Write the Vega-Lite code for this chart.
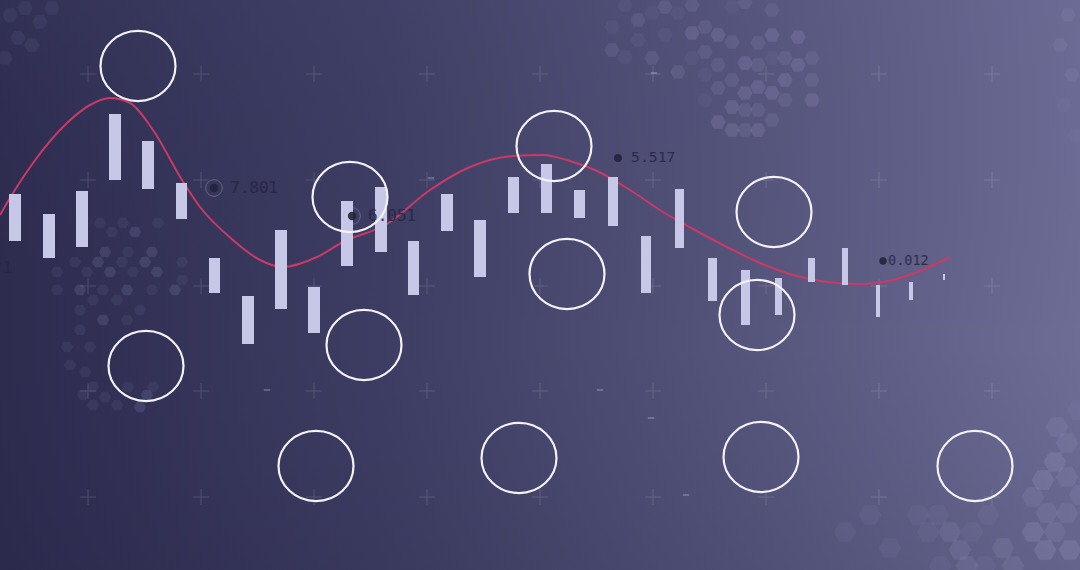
{
  "$schema": "https://vega.github.io/schema/vega-lite/v6.json",
  "width": 1080,
  "height": 570,
  "padding": 0,
  "autosize": {"type": "none"},
  "background": "#3f3e63",
  "config": {"view": {"stroke": null}},
  "resolve": {"scale": {"size": "independent", "opacity": "independent"}},
  "datasets": {
    "bg": [{"x": 0, "x2": 1080, "y": 0, "y2": 570}],
    "hex": [
      {"x": 612, "y": 50, "c": "a", "t": 2}, {"x": 625, "y": 57, "c": "a", "t": 1}, {"x": 638, "y": 20, "c": "a", "t": 2},
      {"x": 652, "y": 13, "c": "a", "t": 1}, {"x": 665, "y": 7, "c": "a", "t": 2}, {"x": 678, "y": 13, "c": "a", "t": 1},
      {"x": 692, "y": 33, "c": "a", "t": 3}, {"x": 705, "y": 27, "c": "a", "t": 2}, {"x": 718, "y": 35, "c": "a", "t": 3},
      {"x": 732, "y": 42, "c": "a", "t": 2}, {"x": 745, "y": 63, "c": "a", "t": 3}, {"x": 758, "y": 87, "c": "a", "t": 3},
      {"x": 772, "y": 35, "c": "a", "t": 3}, {"x": 785, "y": 58, "c": "a", "t": 2}, {"x": 798, "y": 65, "c": "a", "t": 3},
      {"x": 812, "y": 58, "c": "a", "t": 2}, {"x": 812, "y": 100, "c": "a", "t": 3}, {"x": 785, "y": 100, "c": "a", "t": 2},
      {"x": 772, "y": 93, "c": "a", "t": 3}, {"x": 745, "y": 93, "c": "a", "t": 3}, {"x": 732, "y": 80, "c": "a", "t": 2},
      {"x": 718, "y": 65, "c": "a", "t": 2}, {"x": 718, "y": 122, "c": "a", "t": 3}, {"x": 732, "y": 130, "c": "a", "t": 3},
      {"x": 758, "y": 130, "c": "a", "t": 3}, {"x": 745, "y": 110, "c": "a", "t": 2}, {"x": 732, "y": 107, "c": "a", "t": 3},
      {"x": 678, "y": 72, "c": "a", "t": 2}, {"x": 652, "y": 58, "c": "a", "t": 2}, {"x": 692, "y": 58, "c": "a", "t": 1},
      {"x": 705, "y": 52, "c": "a", "t": 2}, {"x": 758, "y": 43, "c": "a", "t": 2}, {"x": 798, "y": 37, "c": "a", "t": 3},
      {"x": 772, "y": 10, "c": "a", "t": 2}, {"x": 745, "y": 2, "c": "a", "t": 2}, {"x": 732, "y": 7, "c": "a", "t": 1},
      {"x": 625, "y": 5, "c": "a", "t": 1}, {"x": 612, "y": 27, "c": "a", "t": 1}, {"x": 692, "y": 5, "c": "a", "t": 2},
      {"x": 705, "y": 75, "c": "a", "t": 1}, {"x": 758, "y": 110, "c": "a", "t": 2}, {"x": 785, "y": 80, "c": "a", "t": 3},
      {"x": 772, "y": 120, "c": "a", "t": 2}, {"x": 745, "y": 130, "c": "a", "t": 2}, {"x": 812, "y": 80, "c": "a", "t": 2},
      {"x": 638, "y": 40, "c": "a", "t": 1}, {"x": 665, "y": 35, "c": "a", "t": 1}, {"x": 758, "y": 65, "c": "a", "t": 2},
      {"x": 772, "y": 58, "c": "a", "t": 1}, {"x": 705, "y": 100, "c": "a", "t": 1}, {"x": 718, "y": 88, "c": "a", "t": 2},
      {"x": 100, "y": 223, "c": "b", "t": 1}, {"x": 123, "y": 223, "c": "b", "t": 1}, {"x": 135, "y": 232, "c": "b", "t": 2},
      {"x": 158, "y": 223, "c": "b", "t": 1}, {"x": 112, "y": 232, "c": "b", "t": 1}, {"x": 105, "y": 252, "c": "b", "t": 2},
      {"x": 128, "y": 252, "c": "b", "t": 1}, {"x": 152, "y": 252, "c": "b", "t": 2}, {"x": 75, "y": 262, "c": "b", "t": 1},
      {"x": 98, "y": 262, "c": "b", "t": 2}, {"x": 122, "y": 262, "c": "b", "t": 1}, {"x": 145, "y": 262, "c": "b", "t": 2},
      {"x": 182, "y": 262, "c": "b", "t": 1}, {"x": 57, "y": 272, "c": "b", "t": 1}, {"x": 87, "y": 272, "c": "b", "t": 1},
      {"x": 110, "y": 272, "c": "b", "t": 2}, {"x": 133, "y": 272, "c": "b", "t": 1}, {"x": 157, "y": 272, "c": "b", "t": 2},
      {"x": 182, "y": 280, "c": "b", "t": 1}, {"x": 57, "y": 290, "c": "b", "t": 1}, {"x": 80, "y": 290, "c": "b", "t": 2},
      {"x": 103, "y": 290, "c": "b", "t": 1}, {"x": 127, "y": 290, "c": "b", "t": 2}, {"x": 152, "y": 290, "c": "b", "t": 1},
      {"x": 175, "y": 290, "c": "b", "t": 2}, {"x": 93, "y": 300, "c": "b", "t": 1}, {"x": 117, "y": 300, "c": "b", "t": 1},
      {"x": 140, "y": 310, "c": "b", "t": 1}, {"x": 80, "y": 310, "c": "b", "t": 1}, {"x": 103, "y": 320, "c": "b", "t": 2},
      {"x": 127, "y": 320, "c": "b", "t": 1}, {"x": 80, "y": 330, "c": "b", "t": 1}, {"x": 67, "y": 347, "c": "b", "t": 1},
      {"x": 90, "y": 347, "c": "b", "t": 1}, {"x": 93, "y": 387, "c": "b", "t": 1}, {"x": 105, "y": 397, "c": "b", "t": 1},
      {"x": 93, "y": 405, "c": "b", "t": 1}, {"x": 117, "y": 405, "c": "b", "t": 1}, {"x": 140, "y": 407, "c": "b", "t": 2},
      {"x": 147, "y": 395, "c": "b", "t": 2}, {"x": 153, "y": 387, "c": "b", "t": 1}, {"x": 128, "y": 387, "c": "b", "t": 1},
      {"x": 83, "y": 395, "c": "b", "t": 1}, {"x": 70, "y": 365, "c": "b", "t": 1}, {"x": 85, "y": 372, "c": "b", "t": 1},
      {"x": 1057, "y": 427, "c": "c", "t": 2}, {"x": 1067, "y": 443, "c": "c", "t": 2}, {"x": 1055, "y": 462, "c": "c", "t": 3},
      {"x": 1043, "y": 480, "c": "c", "t": 3}, {"x": 1033, "y": 497, "c": "c", "t": 2}, {"x": 1047, "y": 513, "c": "c", "t": 2},
      {"x": 1033, "y": 532, "c": "c", "t": 3}, {"x": 1055, "y": 532, "c": "c", "t": 2}, {"x": 1045, "y": 550, "c": "c", "t": 3},
      {"x": 1003, "y": 548, "c": "c", "t": 2}, {"x": 1013, "y": 566, "c": "c", "t": 2}, {"x": 960, "y": 550, "c": "c", "t": 2},
      {"x": 938, "y": 515, "c": "c", "t": 1}, {"x": 928, "y": 532, "c": "c", "t": 1}, {"x": 950, "y": 532, "c": "c", "t": 2},
      {"x": 972, "y": 532, "c": "c", "t": 1}, {"x": 918, "y": 515, "c": "c", "t": 1}, {"x": 890, "y": 548, "c": "c", "t": 1},
      {"x": 845, "y": 532, "c": "c", "t": 1}, {"x": 940, "y": 566, "c": "c", "t": 1}, {"x": 967, "y": 566, "c": "c", "t": 2},
      {"x": 1067, "y": 477, "c": "c", "t": 2}, {"x": 1067, "y": 513, "c": "c", "t": 2}, {"x": 1070, "y": 550, "c": "c", "t": 3},
      {"x": 988, "y": 515, "c": "c", "t": 1}, {"x": 1078, "y": 410, "c": "c", "t": 1}, {"x": 1080, "y": 495, "c": "c", "t": 2},
      {"x": 870, "y": 515, "c": "c", "t": 1}, {"x": 985, "y": 566, "c": "c", "t": 1},
      {"x": 10, "y": 15, "c": "d", "t": 1}, {"x": 25, "y": 8, "c": "d", "t": 1}, {"x": 40, "y": 22, "c": "d", "t": 1},
      {"x": 18, "y": 38, "c": "d", "t": 1}, {"x": 32, "y": 45, "c": "d", "t": 1}, {"x": 52, "y": 8, "c": "d", "t": 1},
      {"x": 5, "y": 58, "c": "d", "t": 1},
      {"x": 1068, "y": 15, "c": "d", "t": 2}, {"x": 1060, "y": 45, "c": "d", "t": 2}, {"x": 1072, "y": 75, "c": "d", "t": 2},
      {"x": 1064, "y": 105, "c": "d", "t": 1}, {"x": 1075, "y": 135, "c": "d", "t": 1}
    ],
    "plus": [
      {"x": 88, "y": 74}, {"x": 201, "y": 74}, {"x": 314, "y": 74}, {"x": 427, "y": 74}, {"x": 540, "y": 74}, {"x": 653, "y": 74}, {"x": 766, "y": 74}, {"x": 879, "y": 74}, {"x": 992, "y": 74},
      {"x": 88, "y": 180}, {"x": 201, "y": 180}, {"x": 314, "y": 180}, {"x": 427, "y": 180}, {"x": 540, "y": 180}, {"x": 653, "y": 180}, {"x": 766, "y": 180}, {"x": 879, "y": 180}, {"x": 992, "y": 180},
      {"x": 88, "y": 286}, {"x": 201, "y": 286}, {"x": 314, "y": 286}, {"x": 427, "y": 286}, {"x": 540, "y": 286}, {"x": 653, "y": 286}, {"x": 766, "y": 286}, {"x": 879, "y": 286}, {"x": 992, "y": 286},
      {"x": 88, "y": 391}, {"x": 201, "y": 391}, {"x": 314, "y": 391}, {"x": 427, "y": 391}, {"x": 540, "y": 391}, {"x": 653, "y": 391}, {"x": 766, "y": 391}, {"x": 879, "y": 391}, {"x": 992, "y": 391},
      {"x": 88, "y": 497}, {"x": 201, "y": 497}, {"x": 314, "y": 497}, {"x": 427, "y": 497}, {"x": 540, "y": 497}, {"x": 653, "y": 497}, {"x": 766, "y": 497}, {"x": 879, "y": 497}, {"x": 992, "y": 497}
    ],
    "dash": [{"x": 654, "y": 73}, {"x": 431, "y": 178}, {"x": 267, "y": 390}, {"x": 600, "y": 390}, {"x": 651, "y": 418}, {"x": 686, "y": 495}],
    "curve": [
      {"x": 0, "y": 215}, {"x": 13, "y": 193}, {"x": 33, "y": 163}, {"x": 67, "y": 123}, {"x": 90, "y": 105},
      {"x": 110, "y": 98}, {"x": 130, "y": 103}, {"x": 153, "y": 130}, {"x": 182, "y": 180}, {"x": 200, "y": 207},
      {"x": 233, "y": 240}, {"x": 260, "y": 260}, {"x": 283, "y": 267}, {"x": 317, "y": 257}, {"x": 343, "y": 242},
      {"x": 387, "y": 224}, {"x": 430, "y": 190}, {"x": 470, "y": 167}, {"x": 513, "y": 156}, {"x": 543, "y": 155},
      {"x": 570, "y": 161}, {"x": 597, "y": 171}, {"x": 630, "y": 190}, {"x": 663, "y": 212}, {"x": 693, "y": 229},
      {"x": 727, "y": 247}, {"x": 760, "y": 263}, {"x": 793, "y": 275}, {"x": 827, "y": 282}, {"x": 860, "y": 284},
      {"x": 893, "y": 280}, {"x": 927, "y": 268}, {"x": 950, "y": 257}
    ],
    "bars": [
      {"x": 9, "x2": 21, "y": 194, "y2": 241}, {"x": 43, "x2": 55, "y": 214, "y2": 258}, {"x": 76, "x2": 88, "y": 191, "y2": 247},
      {"x": 109, "x2": 121, "y": 114, "y2": 180}, {"x": 142, "x2": 154, "y": 141, "y2": 189}, {"x": 176, "x2": 187, "y": 183, "y2": 219},
      {"x": 209, "x2": 220, "y": 258, "y2": 293}, {"x": 242, "x2": 254, "y": 296, "y2": 344}, {"x": 275, "x2": 287, "y": 230, "y2": 309},
      {"x": 308, "x2": 320, "y": 287, "y2": 333}, {"x": 341, "x2": 353, "y": 201, "y2": 266}, {"x": 375, "x2": 387, "y": 187, "y2": 252},
      {"x": 408, "x2": 419, "y": 241, "y2": 295}, {"x": 441, "x2": 453, "y": 194, "y2": 231}, {"x": 474, "x2": 486, "y": 220, "y2": 277},
      {"x": 508, "x2": 519, "y": 177, "y2": 213}, {"x": 541, "x2": 552, "y": 164, "y2": 213}, {"x": 574, "x2": 585, "y": 190, "y2": 218},
      {"x": 608, "x2": 618, "y": 177, "y2": 226}, {"x": 641, "x2": 651, "y": 236, "y2": 293}, {"x": 675, "x2": 684, "y": 189, "y2": 248},
      {"x": 708, "x2": 717, "y": 258, "y2": 301}, {"x": 741, "x2": 750, "y": 270, "y2": 325}, {"x": 775, "x2": 782, "y": 278, "y2": 315},
      {"x": 808, "x2": 815, "y": 258, "y2": 282}, {"x": 842, "x2": 848, "y": 248, "y2": 285}, {"x": 876, "x2": 880, "y": 285, "y2": 317},
      {"x": 909, "x2": 913, "y": 282, "y2": 300}, {"x": 943, "x2": 945, "y": 274, "y2": 280}
    ],
    "rings": [
      {"x": 138, "y": 66}, {"x": 350, "y": 197}, {"x": 554, "y": 146}, {"x": 774, "y": 212},
      {"x": 146, "y": 366}, {"x": 364, "y": 345}, {"x": 567, "y": 274}, {"x": 757, "y": 315},
      {"x": 316, "y": 466}, {"x": 519, "y": 458}, {"x": 761, "y": 457}, {"x": 975, "y": 466}
    ],
    "labels": [
      {"px": 214, "lx": 230, "y": 188, "label": "7.801", "grp": "big"},
      {"px": 352, "lx": 368, "y": 216, "label": "6.051", "grp": "big"},
      {"px": 618, "lx": 631, "y": 158, "label": "5.517", "grp": "mid"},
      {"px": 883, "lx": 888, "y": 261, "label": "0.012", "grp": "tiny"},
      {"px": -52, "lx": -36, "y": 268, "label": "0.871", "grp": "big"}
    ]
  },
  "layer": [
    {
      "data": {"name": "bg"},
      "mark": {"type": "rect", "fill": {"gradient": "linear", "x1": 0, "y1": 0, "x2": 1, "y2": 0, "stops": [
        {"offset": 0, "color": "#2d2c4f"}, {"offset": 0.35, "color": "#3d3c62"}, {"offset": 0.7, "color": "#56557c"}, {"offset": 1, "color": "#6e6d96"}]}},
      "encoding": {
        "x": {"field": "x", "type": "quantitative", "scale": {"domain": [0, 1080], "nice": false, "zero": false},
          "axis": {"values": [3, 31, 60, 88, 116, 144, 173, 201, 229, 257, 286, 314, 342, 370, 399, 427, 455, 483, 512, 540, 568, 596, 625, 653, 681, 709, 738, 766, 794, 822, 851, 879, 907, 935, 964, 992, 1020, 1048, 1077],
            "grid": true, "gridColor": "#ffffff", "gridOpacity": 0.035, "domain": false, "ticks": false, "labels": false, "title": null, "zindex": 1, "minExtent": 0, "maxExtent": 0}},
        "x2": {"field": "x2"},
        "y": {"field": "y", "type": "quantitative", "scale": {"domain": [0, 570], "nice": false, "zero": false, "reverse": true},
          "axis": {"values": [21, 47.5, 74, 100.5, 127, 153.5, 180, 206.5, 233, 259.5, 286, 312.5, 339, 365.5, 391, 418.5, 445, 471.5, 497, 524.5, 551],
            "grid": true, "gridColor": "#ffffff", "gridOpacity": 0.035, "domain": false, "ticks": false, "labels": false, "title": null, "zindex": 1, "minExtent": 0, "maxExtent": 0}},
        "y2": {"field": "y2"}
      }
    },
    {
      "data": {"name": "bg"},
      "mark": {"type": "rect", "fill": {"gradient": "linear", "x1": 0, "y1": 0, "x2": 0, "y2": 1, "stops": [
        {"offset": 0, "color": "rgba(90,90,140,0.10)"}, {"offset": 0.6, "color": "rgba(40,40,80,0)"}, {"offset": 1, "color": "rgba(20,20,50,0.10)"}]}},
      "encoding": {
        "x": {"field": "x", "type": "quantitative", "scale": {"domain": [0, 1080], "nice": false, "zero": false}, "axis": null},
        "x2": {"field": "x2"},
        "y": {"field": "y", "type": "quantitative", "scale": {"domain": [0, 570], "nice": false, "zero": false, "reverse": true}, "axis": null},
        "y2": {"field": "y2"}
      }
    },
    {
      "data": {"name": "hex"},
      "transform": [{"filter": "datum.c === 'a' || datum.c === 'd'"}],
      "mark": {"type": "point", "shape": "M1,0L0.5,0.866L-0.5,0.866L-1,0L-0.5,-0.866L0.5,-0.866Z", "filled": true, "color": "#8e8dba", "strokeWidth": 0, "size": 240},
      "encoding": {
        "x": {"field": "x", "type": "quantitative", "scale": {"domain": [0, 1080], "nice": false, "zero": false}, "axis": null},
        "y": {"field": "y", "type": "quantitative", "scale": {"domain": [0, 570], "nice": false, "zero": false, "reverse": true}, "axis": null},
        "opacity": {"field": "t", "type": "quantitative", "scale": {"domain": [1, 3], "range": [0.1, 0.28]}, "legend": null}
      }
    },
    {
      "data": {"name": "hex"},
      "transform": [{"filter": "datum.c === 'b'"}],
      "mark": {"type": "point", "shape": "M1,0L0.5,0.866L-0.5,0.866L-1,0L-0.5,-0.866L0.5,-0.866Z", "filled": true, "color": "#8e8dba", "strokeWidth": 0, "size": 150},
      "encoding": {
        "x": {"field": "x", "type": "quantitative", "scale": {"domain": [0, 1080], "nice": false, "zero": false}, "axis": null},
        "y": {"field": "y", "type": "quantitative", "scale": {"domain": [0, 570], "nice": false, "zero": false, "reverse": true}, "axis": null},
        "opacity": {"field": "t", "type": "quantitative", "scale": {"domain": [1, 3], "range": [0.1, 0.28]}, "legend": null}
      }
    },
    {
      "data": {"name": "hex"},
      "transform": [{"filter": "datum.c === 'c'"}],
      "mark": {"type": "point", "shape": "M1,0L0.5,0.866L-0.5,0.866L-1,0L-0.5,-0.866L0.5,-0.866Z", "filled": true, "color": "#9594c0", "strokeWidth": 0, "size": 520},
      "encoding": {
        "x": {"field": "x", "type": "quantitative", "scale": {"domain": [0, 1080], "nice": false, "zero": false}, "axis": null},
        "y": {"field": "y", "type": "quantitative", "scale": {"domain": [0, 570], "nice": false, "zero": false, "reverse": true}, "axis": null},
        "opacity": {"field": "t", "type": "quantitative", "scale": {"domain": [1, 3], "range": [0.1, 0.28]}, "legend": null}
      }
    },
    {
      "data": {"name": "plus"},
      "mark": {"type": "point", "shape": "M-1,0L1,0M0,-1L0,1", "filled": false, "stroke": "#ffffff", "strokeWidth": 1, "opacity": 0.14, "size": 256},
      "encoding": {
        "x": {"field": "x", "type": "quantitative", "scale": {"domain": [0, 1080], "nice": false, "zero": false}, "axis": null},
        "y": {"field": "y", "type": "quantitative", "scale": {"domain": [0, 570], "nice": false, "zero": false, "reverse": true}, "axis": null}
      }
    },
    {
      "data": {"name": "dash"},
      "mark": {"type": "point", "shape": "M-1,0L1,0", "filled": false, "stroke": "#c9c9ea", "strokeWidth": 2, "opacity": 0.3, "size": 40},
      "encoding": {
        "x": {"field": "x", "type": "quantitative", "scale": {"domain": [0, 1080], "nice": false, "zero": false}, "axis": null},
        "y": {"field": "y", "type": "quantitative", "scale": {"domain": [0, 570], "nice": false, "zero": false, "reverse": true}, "axis": null}
      }
    },
    {
      "data": {"name": "curve"},
      "mark": {"type": "line", "interpolate": "monotone", "color": "#c93a66", "strokeWidth": 2},
      "encoding": {
        "x": {"field": "x", "type": "quantitative", "scale": {"domain": [0, 1080], "nice": false, "zero": false}, "axis": null},
        "y": {"field": "y", "type": "quantitative", "scale": {"domain": [0, 570], "nice": false, "zero": false, "reverse": true}, "axis": null}
      }
    },
    {
      "data": {"name": "bars"},
      "mark": {"type": "rect", "color": "#c7c7e7"},
      "encoding": {
        "x": {"field": "x", "type": "quantitative", "scale": {"domain": [0, 1080], "nice": false, "zero": false}, "axis": null},
        "x2": {"field": "x2"},
        "y": {"field": "y", "type": "quantitative", "scale": {"domain": [0, 570], "nice": false, "zero": false, "reverse": true}, "axis": null},
        "y2": {"field": "y2"}
      }
    },
    {
      "data": {"name": "rings"},
      "mark": {"type": "point", "shape": "M-1,0A1,0.935,0,1,1,1,0A1,0.935,0,1,1,-1,0Z", "filled": false, "stroke": "#f2f2f7", "strokeWidth": 2.2, "opacity": 1, "size": 5625},
      "encoding": {
        "x": {"field": "x", "type": "quantitative", "scale": {"domain": [0, 1080], "nice": false, "zero": false}, "axis": null},
        "y": {"field": "y", "type": "quantitative", "scale": {"domain": [0, 570], "nice": false, "zero": false, "reverse": true}, "axis": null}
      }
    },
    {
      "data": {"name": "labels"},
      "transform": [{"filter": "datum.grp === 'big'"}],
      "mark": {"type": "point", "shape": "circle", "filled": false, "stroke": "#b8b8dc", "strokeWidth": 1, "opacity": 0.35, "size": 280},
      "encoding": {
        "x": {"field": "px", "type": "quantitative", "scale": {"domain": [0, 1080], "nice": false, "zero": false}, "axis": null},
        "y": {"field": "y", "type": "quantitative", "scale": {"domain": [0, 570], "nice": false, "zero": false, "reverse": true}, "axis": null}
      }
    },
    {
      "data": {"name": "labels"},
      "mark": {"type": "point", "shape": "circle", "filled": true, "color": "#23223d", "opacity": 0.9},
      "encoding": {
        "x": {"field": "px", "type": "quantitative", "scale": {"domain": [0, 1080], "nice": false, "zero": false}, "axis": null},
        "y": {"field": "y", "type": "quantitative", "scale": {"domain": [0, 570], "nice": false, "zero": false, "reverse": true}, "axis": null},
        "size": {"field": "grp", "type": "nominal", "scale": {"domain": ["big", "mid", "tiny"], "range": [70, 55, 8]}, "legend": null}
      }
    },
    {
      "data": {"name": "labels"},
      "mark": {"type": "text", "align": "left", "baseline": "middle", "font": "DejaVu Sans Mono", "color": "#262543", "opacity": 0.85},
      "encoding": {
        "x": {"field": "lx", "type": "quantitative", "scale": {"domain": [0, 1080], "nice": false, "zero": false}, "axis": null},
        "y": {"field": "y", "type": "quantitative", "scale": {"domain": [0, 570], "nice": false, "zero": false, "reverse": true}, "axis": null},
        "text": {"field": "label"},
        "size": {"field": "grp", "type": "nominal", "scale": {"domain": ["big", "mid", "tiny"], "range": [16, 13.5, 6.5]}, "legend": null}
      }
    }
  ]
}
